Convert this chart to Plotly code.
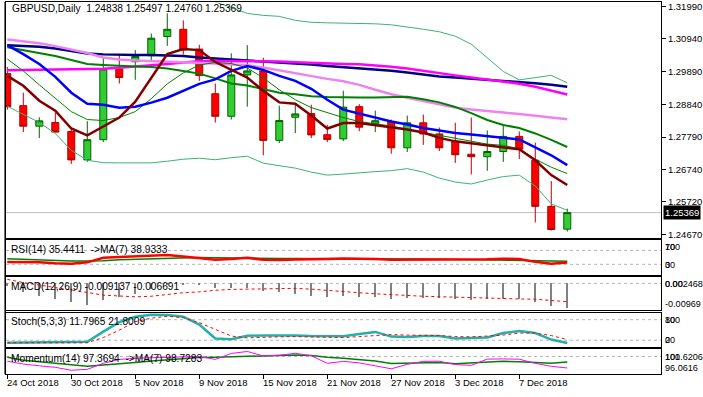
import plotly.graph_objects as go

# ---------------- data ----------------
dates = ["24 Oct 2018", "25 Oct 2018", "26 Oct 2018", "29 Oct 2018", "30 Oct 2018", "31 Oct 2018",
         "1 Nov 2018", "2 Nov 2018", "5 Nov 2018", "6 Nov 2018", "7 Nov 2018", "8 Nov 2018",
         "9 Nov 2018", "12 Nov 2018", "13 Nov 2018", "14 Nov 2018", "15 Nov 2018", "16 Nov 2018",
         "19 Nov 2018", "20 Nov 2018", "21 Nov 2018", "22 Nov 2018", "23 Nov 2018", "26 Nov 2018",
         "27 Nov 2018", "28 Nov 2018", "29 Nov 2018", "30 Nov 2018", "3 Dec 2018", "4 Dec 2018",
         "5 Dec 2018", "6 Dec 2018", "7 Dec 2018", "10 Dec 2018", "11 Dec 2018", "12 Dec 2018"]

opens = [1.29827, 1.28799, 1.28141, 1.28258, 1.27972, 1.27059, 1.27708, 1.29976, 1.30209, 1.30400,
         1.31017, 1.31249, 1.30613, 1.29181, 1.28459, 1.29785, 1.29913, 1.27686, 1.28427, 1.28545,
         1.27867, 1.27733, 1.28767, 1.28226, 1.28290, 1.27447, 1.28249, 1.27892, 1.27654, 1.27240,
         1.27161, 1.27329, 1.27813, 1.27049, 1.25570, 1.24838]
highs = [1.30040, 1.29213, 1.28427, 1.28586, 1.28036, 1.28300, 1.30336, 1.30422, 1.30581, 1.31112,
         1.31758, 1.31535, 1.30750, 1.29509, 1.30476, 1.30740, 1.30336, 1.28799, 1.28853, 1.28831,
         1.28185, 1.29276, 1.28847, 1.28640, 1.28354, 1.28481, 1.28513, 1.28099, 1.28249, 1.28417,
         1.28004, 1.28163, 1.27972, 1.27612, 1.26381, 1.25497]
lows = [1.28672, 1.27950, 1.27759, 1.27940, 1.26931, 1.26995, 1.27631, 1.29509, 1.29626, 1.30231,
        1.30718, 1.30444, 1.29595, 1.28258, 1.28354, 1.28767, 1.27208, 1.27600, 1.27918, 1.27759,
        1.27631, 1.27663, 1.27981, 1.27950, 1.27256, 1.27313, 1.27542, 1.27345, 1.26963, 1.26594,
        1.26709, 1.26995, 1.27087, 1.25054, 1.24790, 1.24760]
closes = [1.28767, 1.28141, 1.28312, 1.27950, 1.27059, 1.27708, 1.29976, 1.29700, 1.30380, 1.30963,
          1.31249, 1.30590, 1.29763, 1.28459, 1.29785, 1.29913, 1.27686, 1.28322, 1.28535, 1.27860,
          1.27717, 1.28751, 1.28109, 1.28316, 1.27447, 1.28249, 1.27892, 1.27447, 1.27224, 1.27161,
          1.27329, 1.27813, 1.27406, 1.25570, 1.24828, 1.25369]

ma_maroon = [1.29754, 1.29436, 1.28958, 1.28640, 1.28067, 1.27845, 1.28131, 1.28417, 1.28926, 1.29690,
             1.30454, 1.30613, 1.30581, 1.30199, 1.29945, 1.29700, 1.29276, 1.28904, 1.28863, 1.28481,
             1.28067, 1.28242, 1.28242, 1.28179, 1.28099, 1.28036, 1.27940, 1.27765, 1.27654, 1.27590,
             1.27511, 1.27447, 1.27399, 1.27049, 1.26572, 1.26254]
ma_blue = [1.30740, 1.30454, 1.30136, 1.29722, 1.29213, 1.28863, 1.28831, 1.28736, 1.28767, 1.28895,
           1.29054, 1.29276, 1.29499, 1.29642, 1.29913, 1.30072, 1.29945, 1.29754, 1.29595, 1.29340,
           1.28990, 1.28672, 1.28545, 1.28417, 1.28290, 1.28195, 1.28083, 1.28004, 1.27924, 1.27876,
           1.27829, 1.27781, 1.27717, 1.27463, 1.27208, 1.26890]
ma_green_thick = [1.30676, 1.30581, 1.30486, 1.30390, 1.30263, 1.30136, 1.30104, 1.30072, 1.30056, 1.30040,
                  1.29992, 1.29913, 1.29827, 1.29674, 1.29509, 1.29445, 1.29340, 1.29213, 1.29165, 1.29101,
                  1.29076, 1.29063, 1.29063, 1.29063, 1.29070, 1.29086, 1.29006, 1.28904, 1.28758, 1.28561,
                  1.28338, 1.28179, 1.28083, 1.27908, 1.27701, 1.27472]
ma_green_thin = [1.30295, 1.29913, 1.29467, 1.29022, 1.28608, 1.28354, 1.28322, 1.28417, 1.28608, 1.29022,
                 1.29499, 1.29849, 1.30104, 1.30183, 1.30151, 1.30008, 1.29690, 1.29308, 1.28990, 1.28736,
                 1.28576, 1.28417, 1.28290, 1.28226, 1.28147, 1.28036, 1.27940, 1.27845, 1.27733, 1.27638,
                 1.27565, 1.27526, 1.27415, 1.27081, 1.26826, 1.26620]
ma_violet = [1.30921, 1.30867, 1.30804, 1.30708, 1.30597, 1.30486, 1.30342, 1.30279, 1.30247, 1.30231,
             1.30215, 1.30199, 1.30167, 1.30151, 1.30120, 1.30094, 1.30024, 1.29929, 1.29833, 1.29754,
             1.29658, 1.29579, 1.29467, 1.29308, 1.29165, 1.29054, 1.28942, 1.28847, 1.28736, 1.28672,
             1.28615, 1.28576, 1.28535, 1.28471, 1.28417, 1.28363]
ma_magenta = [1.29935, 1.29945, 1.29945, 1.29954, 1.29964, 1.29967, 1.29986, 1.30015, 1.30050, 1.30088,
              1.30136, 1.30183, 1.30221, 1.30231, 1.30231, 1.30231, 1.30231, 1.30215, 1.30190, 1.30167,
              1.30151, 1.30136, 1.30126, 1.30094, 1.30050, 1.29992, 1.29913, 1.29833, 1.29770, 1.29706,
              1.29642, 1.29579, 1.29499, 1.29404, 1.29292, 1.29159]
ma_navy = [1.30740, 1.30724, 1.30692, 1.30629, 1.30549, 1.30470, 1.30444, 1.30422, 1.30422, 1.30422,
           1.30406, 1.30390, 1.30342, 1.30310, 1.30279, 1.30253, 1.30231, 1.30199, 1.30167, 1.30120,
           1.30072, 1.30040, 1.30008, 1.29967, 1.29922, 1.29865, 1.29801, 1.29738, 1.29700, 1.29665,
           1.29633, 1.29595, 1.29563, 1.29515, 1.29467, 1.29404]
bb_upper = [1.32554, 1.32681, 1.32776, 1.32872, 1.33095, 1.33222, 1.33254, 1.33254, 1.33190, 1.33126,
            1.32999, 1.32776, 1.32458, 1.32124, 1.31949, 1.31758, 1.31695, 1.31663, 1.31535, 1.31472,
            1.31456, 1.31450, 1.31440, 1.31424, 1.31392, 1.31329, 1.31249, 1.31170, 1.31026, 1.30772,
            1.30326, 1.29897, 1.29626, 1.29690, 1.29770, 1.29531]
bb_lower = [1.28783, 1.28529, 1.28258, 1.27908, 1.27367, 1.27049, 1.26970, 1.26963, 1.26954, 1.26963,
            1.27017, 1.27081, 1.27113, 1.27065, 1.27129, 1.27176, 1.26954, 1.26874, 1.26795, 1.26667,
            1.26572, 1.26604, 1.26651, 1.26683, 1.26715, 1.26779, 1.26667, 1.26476, 1.26349, 1.26286,
            1.26413, 1.26524, 1.26572, 1.26222, 1.25649, 1.25442]

rsi = [36.6, 36.6, 35.7, 32.9, 32.0, 35.7, 49.0, 51.4, 52.9, 55.7, 56.6, 52.9, 48.6, 42.9, 45.7, 49.1,
       42.9, 42.3, 44.3, 44.3, 45.7, 47.1, 47.1, 45.7, 43.4, 43.4, 44.3, 44.3, 44.3, 44.3, 44.9, 46.3,
       45.1, 37.1, 32.0, 35.4411]
rsi_ma = [46.3, 44.3, 42.3, 40.0, 39.4, 39.4, 40.0, 42.9, 44.3, 45.7, 48.6, 50.6, 50.0, 49.1, 49.1, 48.6,
          47.1, 47.1, 46.6, 46.6, 47.1, 47.1, 46.6, 46.6, 46.3, 46.3, 45.7, 44.9, 44.3, 43.4, 42.9, 42.3,
          42.3, 41.4, 41.4, 38.9333]
macd_hist = [-0.0010, -0.0033, -0.0046, -0.0058, -0.0069, -0.0078, -0.0062, -0.0051, -0.0039, -0.0022,
             -0.0005, -0.0004, -0.0005, -0.0018, -0.0018, -0.0018, -0.0026, -0.0033, -0.0040, -0.0047,
             -0.0049, -0.0047, -0.0049, -0.0049, -0.0056, -0.0052, -0.0053, -0.0053, -0.0058, -0.0062,
             -0.0057, -0.0057, -0.0057, -0.0069, -0.0084, -0.009137]
macd_signal = [0.0015, 0.0003, -0.0006, -0.0015, -0.0022, -0.0033, -0.0043, -0.0047, -0.0049, -0.0047,
               -0.0041, -0.0034, -0.0031, -0.0025, -0.0022, -0.0021, -0.0020, -0.0018, -0.0018, -0.0021,
               -0.0026, -0.0030, -0.0034, -0.0038, -0.0042, -0.0044, -0.0047, -0.0049, -0.0051, -0.0053,
               -0.0054, -0.0056, -0.0057, -0.0058, -0.0062, -0.006691]
stoch_k = [12.5, 12.8, 13.3, 14.8, 15.4, 15.4, 45.2, 73.0, 88.7, 94.5, 93.6, 88.7, 65.5, 24.9, 22.9, 32.8,
           34.2, 34.5, 33.6, 32.2, 31.6, 31.6, 38.0, 44.3, 30.7, 29.3, 32.2, 32.2, 24.9, 26.4, 27.8, 40.9,
           47.2, 40.9, 22.0, 11.7965]
stoch_d = [12.5, 12.5, 12.5, 12.5, 12.5, 12.5, 27.8, 49.6, 74.2, 84.3, 90.1, 85.8, 71.3, 51.0, 32.2, 27.0,
           29.3, 29.9, 30.7, 29.9, 29.3, 27.8, 30.7, 33.6, 36.5, 35.1, 34.5, 33.6, 30.7, 29.9, 32.2, 35.1,
           40.9, 40.9, 33.6, 21.8009]
momentum = [98.93, 98.28, 97.87, 97.53, 96.85, 97.07, 98.44, 99.34, 99.61, 99.75, 99.86, 99.91, 100.02,
            99.34, 100.70, 101.16, 100.14, 100.29, 100.75, 100.18, 98.44, 98.89, 98.55, 97.87, 97.19,
            98.21, 98.89, 98.93, 98.16, 97.98, 99.41, 99.46, 99.39, 98.44, 97.76, 97.3694]
mom_ma = [99.84, 99.16, 98.78, 98.39, 98.10, 97.80, 98.05, 98.32, 98.66, 99.00, 99.30, 99.61, 99.75,
          99.84, 99.95, 100.07, 100.07, 100.25, 100.36, 100.25, 99.84, 99.61, 99.34, 99.00, 98.39,
          98.44, 98.59, 98.66, 98.32, 98.50, 98.78, 98.89, 98.78, 98.66, 98.44, 98.7283]

price_ticks = [1.31990, 1.30940, 1.29890, 1.28840, 1.27790, 1.26740, 1.25720, 1.24670]
rsi_levels = [70, 30]
stoch_levels = [80, 20]
macd_levels = [0]
mom_levels = [100]
rsi_labels = ["100", "70", "30", "0"]
macd_labels = ["0.002468", "0.00", "-0.00969"]
stoch_labels = ["100", "80", "20", "0"]
mom_labels = ["101.6206", "100", "96.0616"]

# ---------------- layout helpers (pixel geometry) ----------------
W, H = 703, 397
FONT = "Liberation Sans"
FS = 9.5
FS_T = 10.2   # panel titles
FS_R = 9.1    # right-hand sub-panel scale labels


def px(x):
    return x / W


def py(y):
    return 1 - y / H


X0, X1 = 6, 661
XR = [-0.081, 40.86]
P = {"main": (0.5, 238), "rsi": (240.5, 275.5), "macd": (277.5, 311),
     "stoch": (314, 348.6), "mom": (351, 375.5)}

fig = go.Figure()


def line(x, y, xa, ya, color, width, dash=None):
    fig.add_trace(go.Scatter(x=x, y=y, xaxis=xa, yaxis=ya, mode="lines",
                             line=dict(color=color, width=width, dash=dash),
                             hoverinfo="skip", showlegend=False))


# main panel indicator lines
line(dates, bb_upper, "x", "y", "#3CB371", 1)
line(dates, bb_lower, "x", "y", "#3CB371", 1)
line(dates, ma_navy, "x", "y", "#000080", 2.5)
line(dates, ma_magenta, "x", "y", "#FF00FF", 2.5)
line(dates, ma_violet, "x", "y", "#EE82EE", 2.5)
line(dates, ma_green_thick, "x", "y", "#008000", 2)
line(dates, ma_green_thin, "x", "y", "#008000", 1)
line(dates, ma_blue, "x", "y", "#0000FF", 2.5)
line(dates, ma_maroon, "x", "y", "#800000", 2.5)

fig.add_trace(go.Candlestick(
    x=dates, open=opens, high=highs, low=lows, close=closes, xaxis="x", yaxis="y",
    increasing=dict(fillcolor="#32CD32", line=dict(color="#006400", width=1)),
    decreasing=dict(fillcolor="#FF0000", line=dict(color="#B00000", width=1)),
    whiskerwidth=0, hoverinfo="skip", showlegend=False))

# RSI
line(dates, rsi_ma, "x2", "y2", "#008000", 1.5)
line(dates, rsi, "x2", "y2", "#FF0000", 2.5)
# MACD
fig.add_trace(go.Bar(x=dates, y=macd_hist, xaxis="x3", yaxis="y3", width=0.13,
                     marker=dict(color="#808080", line=dict(width=0)), hoverinfo="skip",
                     showlegend=False))
line(dates, macd_signal, "x3", "y3", "#FF0000", 1, "3px,3px")
# Stochastic
line(dates, stoch_k, "x4", "y4", "#20B2AA", 2.5)
line(dates, stoch_d, "x4", "y4", "#FF0000", 1, "3px,3px")
# Momentum
line(dates, mom_ma, "x5", "y5", "#008000", 1.5)
line(dates, momentum, "x5", "y5", "#FF00FF", 1)

axis_common = dict(showline=True, mirror=True, linecolor="black", linewidth=1,
                   showgrid=False, zeroline=False, fixedrange=True)

layout = dict(width=W, height=H, margin=dict(l=0, r=0, t=0, b=0, pad=0),
              paper_bgcolor="white", plot_bgcolor="white", boxgap=0.375,
              bargap=0, showlegend=False, font=dict(family=FONT, size=FS, color="black"))

names = ["main", "rsi", "macd", "stoch", "mom"]
yranges = [[1.24567, 1.32108], [0, 100], [-0.00969, 0.002468], [0, 100], [96.0616, 101.6206]]
for k, (name, yr) in enumerate(zip(names, yranges)):
    sfx = "" if k == 0 else str(k + 1)
    top, bot = P[name]
    xa = dict(axis_common, domain=[px(X0), px(X1)], range=XR, type="category",
              anchor="y" + sfx, showticklabels=False, ticks="",
              rangeslider=dict(visible=False))
    if k > 0:
        xa["matches"] = "x"
    if name == "mom":
        xa.update(ticks="outside", tickmode="array", tickvals=dates[::4], ticklen=4,
                  tickcolor="black", tickwidth=1)
    ya = dict(axis_common, domain=[py(bot), py(top)], range=yr, autorange=False,
              anchor="x" + sfx, showticklabels=False, ticks="")
    if name == "main":
        ya.update(side="right", showticklabels=True, ticks="outside", ticklen=4,
                  tickcolor="black", tickmode="array", tickvals=price_ticks,
                  ticktext=[f"{v:.5f}" for v in price_ticks], ticklabeloverflow="allow",
                  tickfont=dict(family=FONT, size=FS, color="black"))
    layout["xaxis" + sfx] = xa
    layout["yaxis" + sfx] = ya

shapes = []
# bid line
shapes.append(dict(type="line", xref="x domain", yref="y", x0=0, x1=1, y0=closes[-1], y1=closes[-1],
                   line=dict(color="#C0C0C0", width=1), layer="below"))
for sfx, levels in (("2", rsi_levels), ("3", macd_levels), ("4", stoch_levels), ("5", mom_levels)):
    for lv in levels:
        shapes.append(dict(type="line", xref=f"x{sfx} domain", yref=f"y{sfx}", x0=0, x1=1, y0=lv, y1=lv,
                           line=dict(color="#B4B4B4", width=1, dash="3px,3px"), layer="below"))
# thick left frame edge
shapes.append(dict(type="line", xref="paper", yref="paper", x0=px(5.2), x1=px(5.2), y0=py(376), y1=py(0),
                   line=dict(color="black", width=1.5)))
layout["shapes"] = shapes

ann = []


def text(x, y, s, size=FS, color="black", anchor="left", **kw):
    ann.append(dict(xref="paper", yref="paper", x=px(x), y=py(y), text=s, showarrow=False,
                    xanchor=anchor, yanchor="middle", font=dict(family=FONT, size=size, color=color),
                    borderpad=0, **kw))


text(10.5, 6.5, f"GBPUSD,Daily\u00a0 {opens[-1]:.5f} {highs[-1]:.5f} {lows[-1]:.5f} {closes[-1]:.5f}", FS_T)
text(10, 250, f"RSI(14) {rsi[-1]:.4f}\u00a0 ->MA(7) {rsi_ma[-1]:.4f}", FS_T)
text(10, 287, f"MACD(12,26,9) {macd_hist[-1]:.6f} {macd_signal[-1]:.6f}", FS_T)
text(10, 323, f"Stoch(5,3,3) {stoch_k[-1]:.4f} {stoch_d[-1]:.4f}", FS_T)
text(10, 360, f"Momentum(14) {momentum[-1]:.4f}\u00a0 ->MA(7) {mom_ma[-1]:.4f}", FS_T)

# right-hand sub-panel scale labels (MT4 draws them overlapping)
LX = 664
text(LX, 247.5, rsi_labels[0], FS_R); text(LX, 247.5, rsi_labels[1], FS_R)
text(LX, 265.5, rsi_labels[2], FS_R); text(LX, 265.5, rsi_labels[3], FS_R)
text(LX, 284.5, macd_labels[0], FS_R); text(LX, 284.5, macd_labels[1], FS_R)
text(LX, 305, macd_labels[2], FS_R)
text(LX, 321, stoch_labels[0], FS_R); text(LX, 321, stoch_labels[1], FS_R)
text(LX, 341.5, stoch_labels[2], FS_R); text(LX, 341.5, stoch_labels[3], FS_R)
text(LX, 358.5, mom_labels[0], FS_R); text(LX, 358.5, mom_labels[1], FS_R)
text(LX, 370, mom_labels[2], FS_R)

# current price marker
ann.append(dict(xref="paper", yref="y", x=px(662.5), y=closes[-1], text=f"{closes[-1]:.5f}",
                showarrow=False, xanchor="left", yanchor="middle", bgcolor="black",
                font=dict(family=FONT, size=FS, color="white"), borderpad=1))

# date labels along the bottom (left aligned at the tick like MT4)
for d in dates[::4]:
    ann.append(dict(xref="x5", yref="paper", x=d, y=py(384), text=d, showarrow=False,
                    xanchor="left", yanchor="middle", xshift=-1,
                    font=dict(family=FONT, size=FS, color="black"), borderpad=0))

layout["annotations"] = ann
fig.update_layout(**layout)
fig.write_html("out.html", config={"displayModeBar": False, "staticPlot": True},
               post_script="document.body.style.margin='0';document.body.style.padding='0';"
                           "document.body.style.overflow='hidden';")
